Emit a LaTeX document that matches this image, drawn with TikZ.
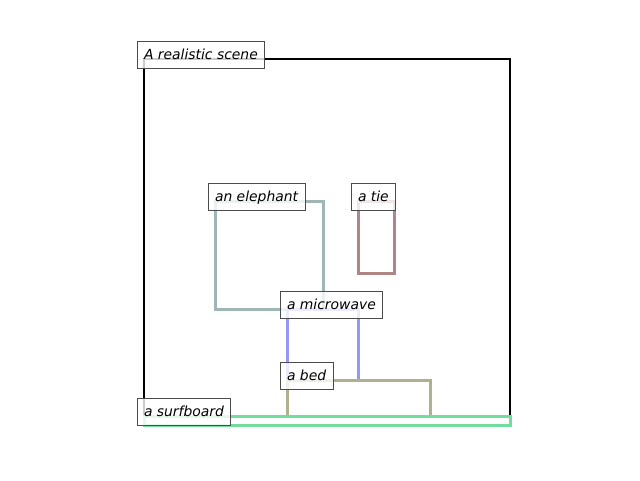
\documentclass[tikz,border=0pt]{standalone}
\usepackage{fontspec}
\setmainfont{DejaVu Sans}
\usetikzlibrary{positioning}
\definecolor{elephantc}{HTML}{9FB6B6}
\definecolor{tiec}{HTML}{B08585}
\definecolor{microwavec}{HTML}{9696F5}
\definecolor{bedc}{HTML}{B0B08E}
\definecolor{surfboardc}{HTML}{72DE9E}
\tikzstyle{region}=[rectangle,line width=3pt,outer sep=0pt,inner sep=0pt,anchor=north west]
\tikzstyle{caption}=[rectangle,draw=black!70,line width=1pt,fill=white,fill opacity=0.8,text opacity=1,
    inner xsep=7pt,inner ysep=5.6pt,text height=12.9pt,text depth=3.3pt,outer sep=0pt,
    anchor=base west,font=\fontsize{13.9}{16}\selectfont\itshape]

\begin{document}
\begin{tikzpicture}[x=1pt,y=-1pt]
    \useasboundingbox (0,0) rectangle (640,480);
    % First the scene frame and the object regions
    \node[region,draw=black,line width=2.5pt,minimum width=366pt,minimum height=366pt] (scene) at (144,59) {};
    \foreach \pos/\name/\w/\h in {{(215,201)/elephant/108/108}, {(358,201)/tie/36/72}, {(287,309)/microwave/71/71}, {(287,380)/bed/143/36}, {(144,416)/surfboard/366/9}}
        \node[region,draw=\name c,minimum width=\w pt,minimum height=\h pt] (\name) at \pos {};
    % Then the captions on the top left corners
    \foreach \name/\txt in {scene/A realistic scene, elephant/an elephant, tie/a tie, microwave/a microwave, bed/a bed, surfboard/a surfboard}
        \node[caption,xshift=-7pt,yshift=-0.5pt] (\name-cap) at (\name.north west) {\txt};
\end{tikzpicture}
\end{document}
